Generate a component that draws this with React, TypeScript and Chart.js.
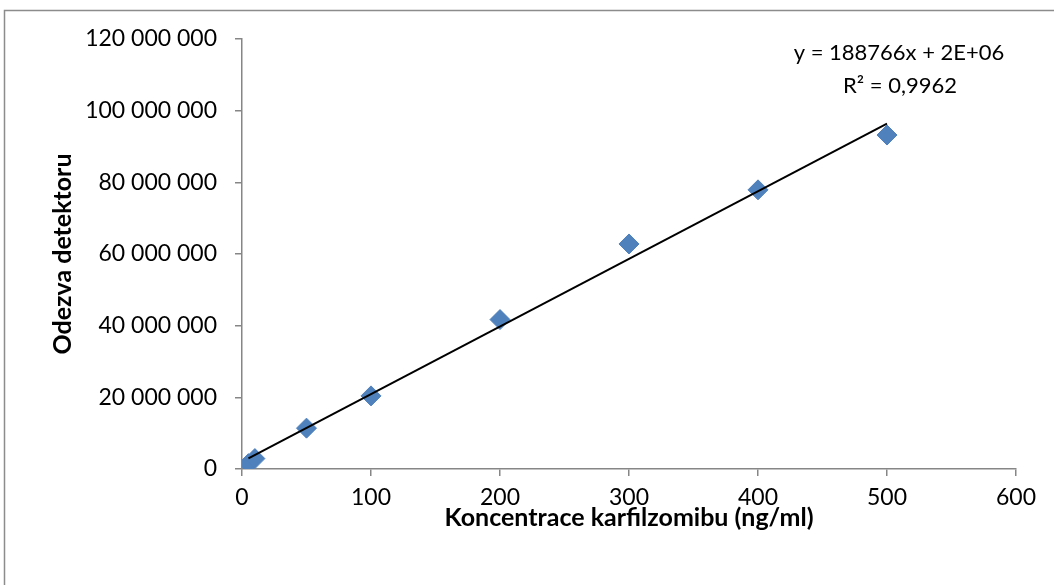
import React, { useEffect, useRef } from "react";
import { Chart, registerables } from "chart.js";

Chart.register(...registerables);

const concentrations = [5, 10, 50, 100, 200, 300, 400, 500];
const responses = [1500000, 2900000, 11400000, 20400000, 41700000, 62800000, 77900000, 93200000];
const trendSlope = 188766;
const trendIntercept = 2000000;
const equationLines = ["y = 188766x + 2E+06", "R² = 0,9962"];
const xTitle = "Koncentrace karfilzomibu (ng/ml)";
const yTitle = "Odezva detektoru";

const FONT = "Lato, 'Open Sans', sans-serif";

function fmtSpace(v: number) {
  return String(Math.round(v)).replace(/\B(?=(\d{3})+(?!\d))/g, " ");
}

export default function App() {
  const ref = useRef<HTMLCanvasElement>(null);
  useEffect(() => {
    document.body.style.margin = "0";
    const ctx = ref.current!.getContext("2d")!;
    const xMin = concentrations[0];
    const xMax = concentrations[concentrations.length - 1];
    const trend = [
      { x: xMin, y: trendSlope * xMin + trendIntercept },
      { x: xMax, y: trendSlope * xMax + trendIntercept },
    ];
    const decor = {
      id: "decor",
      beforeDraw(chart: any) {
        const c = chart.ctx;
        c.save();
        c.fillStyle = "#ffffff";
        c.fillRect(0, 0, chart.width, chart.height);
        c.strokeStyle = "#8c8c8c";
        c.lineWidth = 1.5;
        c.beginPath();
        c.moveTo(4.5, chart.height + 5);
        c.lineTo(4.5, 10.5);
        c.lineTo(chart.width + 5, 10.5);
        c.stroke();
        c.restore();
      },
      afterDraw(chart: any) {
        const c = chart.ctx;
        const a = chart.chartArea;
        c.save();
        c.fillStyle = "#000000";
        c.font = `22px ${FONT}`;
        c.textAlign = "center";
        c.textBaseline = "middle";
        const cx = a.right - 117;
        c.fillText(equationLines[0], cx, a.top + 14);
        c.fillText(equationLines[1], cx + 1, a.top + 47);
        c.restore();
      },
    };
    const chart = new Chart(ctx, {
      type: "scatter",
      data: {
        datasets: [
          {
            label: "trend",
            data: trend,
            showLine: true,
            borderColor: "#000000",
            borderWidth: 2,
            pointRadius: 0,
            order: 0,
          },
          {
            label: "data",
            data: concentrations.map((x, i) => ({ x, y: responses[i] })),
            pointStyle: "rectRot",
            pointRadius: 10,
            backgroundColor: "#4f81bd",
            borderColor: "#4f81bd",
            borderWidth: 1,
            order: 1,
          },
        ],
      },
      options: {
        animation: false,
        responsive: false,
        devicePixelRatio: 1,
        layout: { padding: { left: 44, top: 39, right: 38, bottom: 48 } },
        plugins: { legend: { display: false }, tooltip: { enabled: false } },
        scales: {
          x: {
            type: "linear",
            min: 0,
            max: 600,
            ticks: { stepSize: 100, color: "#000", font: { family: FONT, size: 23 }, padding: 8 },
            grid: { drawOnChartArea: false, drawTicks: true, tickLength: 7, color: "#868686", lineWidth: 1.5 },
            border: { color: "#868686", width: 1.5 },
            title: {
              display: true,
              text: xTitle,
              color: "#000",
              font: { family: FONT, size: 25, weight: "bold" },
              padding: { top: 4, bottom: 4 },
            },
            afterFit(scale: any) {
              scale.height = 68;
            },
          },
          y: {
            type: "linear",
            min: 0,
            max: 120000000,
            ticks: {
              stepSize: 20000000,
              color: "#000",
              font: { family: FONT, size: 23 },
              padding: 18,
              callback: (v: any) => fmtSpace(Number(v)),
            },
            grid: { drawOnChartArea: false, drawTicks: true, tickLength: 7, color: "#868686", lineWidth: 1.5 },
            border: { color: "#868686", width: 1.5 },
            title: {
              display: true,
              text: yTitle,
              color: "#000",
              font: { family: FONT, size: 25, weight: "bold" },
              padding: { top: 4, bottom: 4 },
            },
            afterFit(scale: any) {
              scale.width = 198;
            },
          },
        },
      },
      plugins: [decor],
    } as any);
    return () => chart.destroy();
  }, []);
  return (
    <div style={{ width: 1054, height: 585 }}>
      <canvas ref={ref} width={1054} height={585} style={{ display: "block" }} />
    </div>
  );
}
